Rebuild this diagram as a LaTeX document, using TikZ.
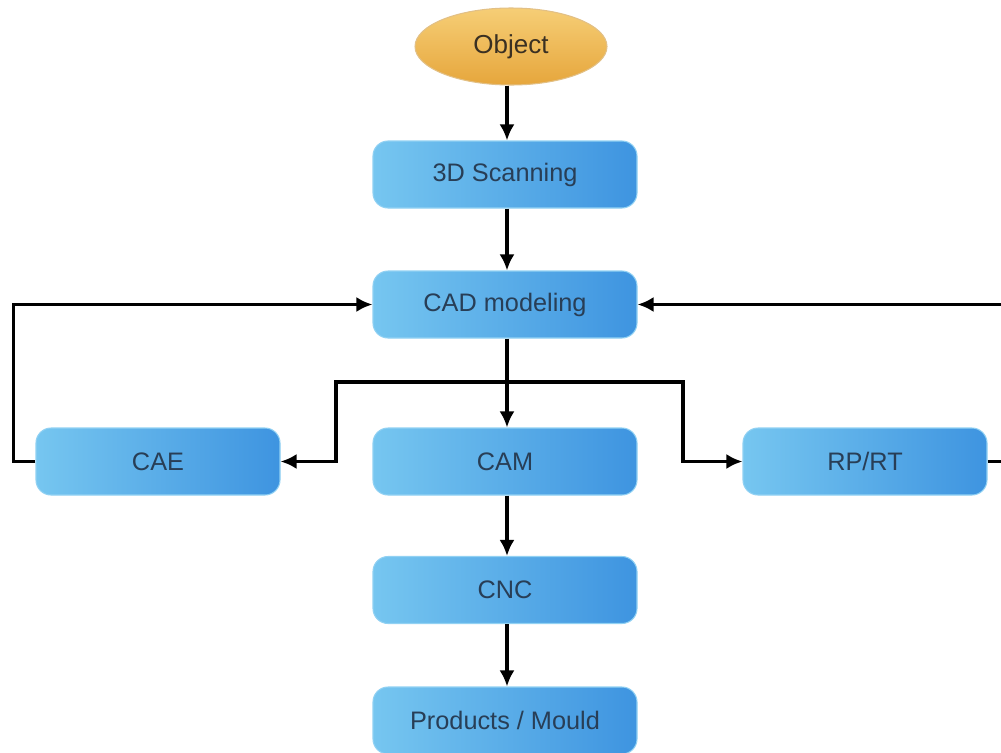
\documentclass[tikz,border=0pt]{standalone}
\usepackage{fontspec}
\setmainfont{Liberation Sans}
\usetikzlibrary{arrows.meta,shapes.geometric}

\definecolor{boxlight}{RGB}{158,222,248}
\definecolor{boxedge}{RGB}{118,198,240}
\definecolor{boxdark}{RGB}{62,148,224}
\definecolor{boxtext}{RGB}{40,62,86}
\definecolor{objtop}{RGB}{246,206,118}
\definecolor{objbot}{RGB}{230,166,60}
\definecolor{objtext}{RGB}{58,48,34}

\tikzset{
	procbox/.style={rectangle, rounded corners=0.15cm, draw=boxedge!80!white, line width=0.3pt,
		left color=boxedge, middle color=boxlight, right color=boxdark,
		minimum width=2.64cm, minimum height=0.67cm, text=boxtext,
		font=\fontsize{7.2}{8}\selectfont},
	sidebox/.style={procbox, minimum width=2.44cm},
	objnode/.style={ellipse, draw=objbot!90!black!60, line width=0.3pt,
		top color=objtop, bottom color=objbot,
		minimum width=1.92cm, minimum height=0.77cm, inner sep=0pt, text=objtext,
		font=\fontsize{7.4}{8}\selectfont},
	flow/.style={line width=0.9pt, -{Latex[length=1.6mm,width=1.5mm]}},
}

\begin{document}
\begin{tikzpicture}
		%%%%% START %%%%%
		\useasboundingbox (0,0) rectangle (10.01,-7.53);
		\clip (0,0) rectangle (10.01,-7.53);
		
		\node[objnode] (obj) at (5.11, -0.465) {Object};
		\node[procbox] (scan) at (5.05, -1.745) {3D Scanning};
		\node[procbox] (cad) at (5.05, -3.045) {CAD modeling};
		\node[sidebox] (cae) at (1.58, -4.615) {CAE};
		\node[procbox] (cam) at (5.05, -4.615) {CAM};
		\node[sidebox] (rprt) at (8.65, -4.615) {RP/RT};
		\node[procbox] (cnc) at (5.05, -5.90) {CNC};
		\node[procbox] (prod) at (5.05, -7.205) {Products / Mould};
		
		\coordinate (fork) at (5.07, -3.82);
		
		\draw[flow] (obj.south -| 5.07,0) -- (scan.north -| 5.07,0);
		\draw[flow] (scan.south -| 5.07,0) -- (cad.north -| 5.07,0);
		\draw[flow] (cad.south -| 5.07,0) -- (cam.north -| 5.07,0);
		\draw[flow] (cam.south -| 5.07,0) -- (cnc.north -| 5.07,0);
		\draw[flow] (cnc.south -| 5.07,0) -- (prod.north -| 5.07,0);
		
		% branches to CAE and RP/RT
		\draw[flow] (fork) -- ++(-1.71,0) |- (cae);
		\draw[flow] (fork) -- ++(1.76,0) |- (rprt);
		
		% feedback loops back to CAD
		\draw[flow] (cae.west) -- ++(-0.22,0) |- (cad);
		\draw[flow] (rprt.east) -- ++(0.22,0) |- (cad);
		
		%%%%% END %%%%%
	\end{tikzpicture}
\end{document}
